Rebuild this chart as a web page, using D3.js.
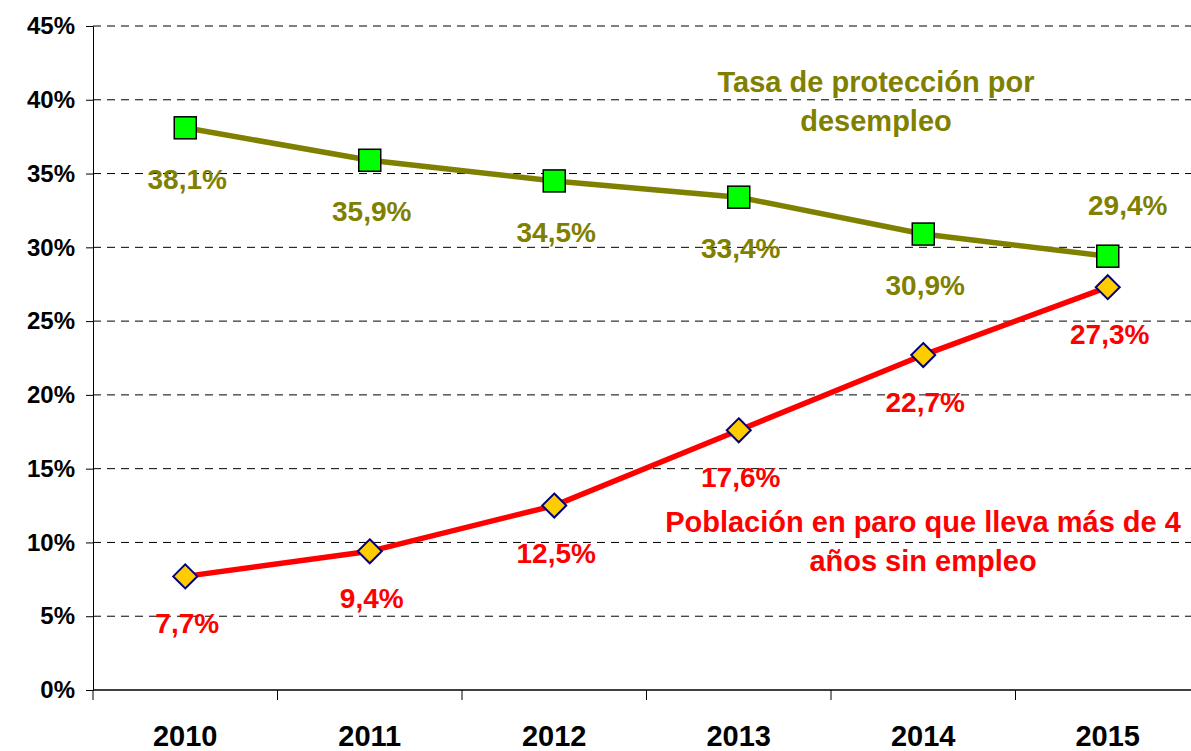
<!DOCTYPE html>
<html>
<head>
<meta charset="utf-8">
<script src="https://cdn.jsdelivr.net/npm/d3@7"></script>
<style>
  body { margin: 0; background: #fff; }
  text { font-family: "Liberation Sans", Arial, sans-serif; font-weight: bold; }
</style>
</head>
<body>
<div id="chart"></div>
<script>
const chartWidth = 1191;
const chartHeight = 751;

const margin = { top: 26, bottom: 61, left: 93, right: -9 };

// data
const years = ["2010", "2011", "2012", "2013", "2014", "2015"];
const proteccion = [38.1, 35.9, 34.5, 33.4, 30.9, 29.4];
const paroLargo = [7.7, 9.4, 12.5, 17.6, 22.7, 27.3];
const yTicks = [0, 5, 10, 15, 20, 25, 30, 35, 40, 45];

const fmt = v => d3.format(".1f")(v).replace(".", ",") + "%";

const svg = d3.select("#chart").append("svg")
  .attr("width", chartWidth)
  .attr("height", chartHeight);

const x = d3.scaleBand()
  .domain(years)
  .range([margin.left, chartWidth - margin.right]);

const y = d3.scaleLinear()
  .domain([0, 45])
  .range([chartHeight - margin.bottom, margin.top]);

const cx = d => x(d) + x.bandwidth() / 2;

// dashed gridlines
svg.append("g")
  .selectAll("line")
  .data(yTicks.filter(t => t > 0))
  .join("line")
  .attr("x1", margin.left).attr("x2", chartWidth)
  .attr("y1", d => y(d)).attr("y2", d => y(d))
  .attr("stroke", "#000").attr("stroke-width", 1)
  .attr("stroke-dasharray", "8,6");

// y axis
const yAxis = d3.axisLeft(y).tickValues(yTicks).tickSize(7).tickPadding(11)
  .tickFormat(d => d + "%");
svg.append("g")
  .attr("transform", "translate(" + margin.left + ",0)")
  .call(yAxis)
  .call(g => g.selectAll("text").attr("font-size", 24).attr("fill", "#000"))
  .call(g => g.selectAll("line, path").attr("stroke", "#000"));

// x axis: ticks at category boundaries
const xg = svg.append("g")
  .attr("transform", "translate(0," + y(0) + ")");
xg.append("line")
  .attr("x1", margin.left).attr("x2", chartWidth)
  .attr("stroke", "#000").attr("stroke-width", 1.5);
xg.selectAll(".tk")
  .data(years)
  .join("line")
  .attr("x1", d => x(d)).attr("x2", d => x(d))
  .attr("y1", 0).attr("y2", 10)
  .attr("stroke", "#000");
xg.selectAll("text")
  .data(years)
  .join("text")
  .attr("x", d => cx(d))
  .attr("y", 56)
  .attr("text-anchor", "middle")
  .attr("font-size", 29)
  .text(d => d);

const line = d3.line()
  .x((d, i) => cx(years[i]))
  .y(d => y(d));

// protección series
svg.append("path")
  .datum(proteccion)
  .attr("fill", "none")
  .attr("stroke", "#808000")
  .attr("stroke-width", 5.5)
  .attr("d", line);

// paro series
svg.append("path")
  .datum(paroLargo)
  .attr("fill", "none")
  .attr("stroke", "#ff0000")
  .attr("stroke-width", 5.5)
  .attr("d", line);

const sq = 22;
svg.selectAll(".sq")
  .data(proteccion)
  .join("rect")
  .attr("x", (d, i) => cx(years[i]) - sq / 2)
  .attr("y", d => y(d) - sq / 2)
  .attr("width", sq).attr("height", sq)
  .attr("fill", "#00ff00")
  .attr("stroke", "#000").attr("stroke-width", 1.5);

const dm = 12;
svg.selectAll(".dm")
  .data(paroLargo)
  .join("path")
  .attr("transform", (d, i) => "translate(" + cx(years[i]) + "," + y(d) + ")")
  .attr("d", "M0," + (-dm) + "L" + dm + ",0L0," + dm + "L" + (-dm) + ",0Z")
  .attr("fill", "#ffcc00")
  .attr("stroke", "#000080").attr("stroke-width", 2);

// value labels
svg.selectAll(".lp")
  .data(proteccion)
  .join("text")
  .attr("x", (d, i) => cx(years[i]) + (i === 5 ? 20 : 2))
  .attr("y", (d, i) => y(d) + (i === 5 ? -41 : 61))
  .attr("text-anchor", "middle")
  .attr("font-size", 28)
  .attr("fill", "#808000")
  .text(d => fmt(d));

svg.selectAll(".lr")
  .data(paroLargo)
  .join("text")
  .attr("x", (d, i) => cx(years[i]) + 2)
  .attr("y", d => y(d) + 57)
  .attr("text-anchor", "middle")
  .attr("font-size", 28)
  .attr("fill", "#ff0000")
  .text(d => fmt(d));

// series annotations
const t1 = svg.append("text")
  .attr("text-anchor", "middle")
  .attr("font-size", 29)
  .attr("fill", "#808000");
t1.append("tspan").attr("x", 876).attr("y", 92).text("Tasa de protección por");
t1.append("tspan").attr("x", 876).attr("y", 131).text("desempleo");

const t2 = svg.append("text")
  .attr("text-anchor", "middle")
  .attr("font-size", 29)
  .attr("fill", "#ff0000");
t2.append("tspan").attr("x", 923).attr("y", 532).text("Población en paro que lleva más de 4");
t2.append("tspan").attr("x", 923).attr("y", 571).text("años sin empleo");
</script>
</body>
</html>
